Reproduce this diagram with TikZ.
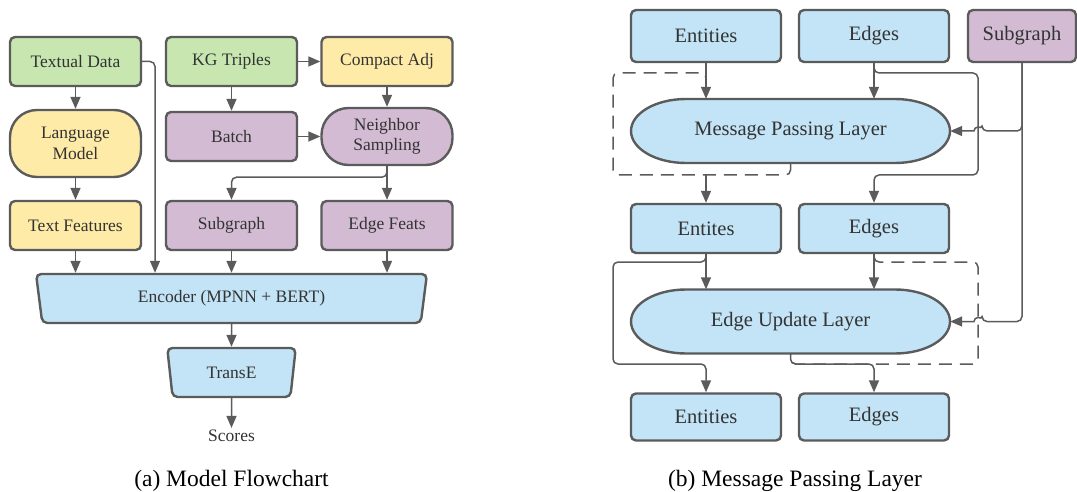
\documentclass[tikz,border=0pt]{standalone}
\usepackage{fontspec}
\setmainfont{Liberation Serif}
\usetikzlibrary{shapes.geometric,calc,arrows.meta,positioning}

\definecolor{greenF}{HTML}{C7E6B0}
\definecolor{yellowF}{HTML}{FFEBA8}
\definecolor{purpleF}{HTML}{D3BCD3}
\definecolor{blueF}{HTML}{C2E4F6}
\definecolor{lineC}{HTML}{5B5B5B}
\definecolor{textC}{HTML}{333333}

\tikzset{
  box/.style={draw=lineC, line width=2.4pt, rounded corners=5pt, text=textC, align=center, inner sep=0pt},
  lbox/.style={box, minimum width=131pt, minimum height=49pt, font=\fontsize{17.5}{20.5}\selectfont},
  rbox/.style={box, minimum width=150pt, minimum height=50pt, font=\fontsize{20.5}{24}\selectfont},
  pillbox/.style={lbox, rounded corners=27pt},
  trap/.style={lbox, trapezium, shape border rotate=180, trapezium angle=79, trapezium stretches=true},
  flow/.style={draw=lineC, line width=1.5pt, rounded corners=5pt, -{Triangle[length=12pt,width=10pt]}},
  skip/.style={draw=lineC, line width=1.5pt, rounded corners=5pt, dash pattern=on 13pt off 8pt},
  layer/.style={draw=lineC, line width=2.4pt, fill=blueF},
  layertext/.style={text=textC, font=\fontsize{20.5}{24}\selectfont, minimum width=319pt, minimum height=64pt, inner sep=0pt},
  caption/.style={font=\fontsize{23.5}{28}\selectfont}
}

% stadium with flat elliptic ends, centre x, centre y
\newcommand{\layershape}[2]{%
  \filldraw[layer] (#1-104.5,#2-32) -- (#1+104.5,#2-32)
    arc[start angle=90,end angle=-90,x radius=55pt,y radius=32pt]
    -- (#1-104.5,#2+32)
    arc[start angle=270,end angle=90,x radius=55pt,y radius=32pt] -- cycle;}

\begin{document}
\begin{tikzpicture}[x=1pt,y=-1pt]
\useasboundingbox (0,0) rectangle (1077,492);

% (a) model flowchart
\node[lbox, fill=greenF] (td) at (75.5,61.5) {Textual Data};
\node[lbox, fill=greenF] (kg) at (231.5,61.5) {KG Triples};
\node[lbox, fill=yellowF] (ca) at (387,61.5) {Compact Adj};

\node[pillbox, fill=yellowF, minimum height=67pt] (lm) at (75.5,143.5) {Language\\Model};
\node[lbox, fill=purpleF] (ba) at (231.5,136.5) {Batch};
\node[pillbox, fill=purpleF, minimum height=57pt] (ns) at (387,136.5) {Neighbor\\Sampling};

\node[lbox, fill=yellowF] (tf) at (75.5,225.5) {Text Features};
\node[lbox, fill=purpleF] (sg) at (231.5,225.5) {Subgraph};
\node[lbox, fill=purpleF] (ef) at (387,225.5) {Edge Feats};

\node[trap, fill=blueF, minimum width=392pt] (enc) at (231.5,298.5) {Encoder (MPNN + BERT)};
\node[trap, fill=blueF, minimum width=129pt] (te) at (231.5,372.5) {TransE};
\node[text=textC, font=\fontsize{17.5}{20}\selectfont, inner sep=2pt] (sc) at (231.5,436) {Scores};

\coordinate (tdbus) at (155,0);

\draw[flow] (td) -- (lm);
\draw[flow] (lm) -- (tf);
\draw[flow] (td.east) -| (tdbus |- enc.north);
\draw[flow] (kg) -- (ba);
\draw[flow] (kg) -- (ca);
\draw[flow] (ca) -- (ns);
\draw[flow] (ba.east) -- (ba.east -| ns.west);
\draw[flow] (ns.south) -- ++(0,11) -| (sg.north);
\draw[flow] (ns) -- (ef);
\draw[flow] (tf.south) -- (tf.south |- enc.north);
\draw[flow] (sg.south) -- (sg.south |- enc.north);
\draw[flow] (ef.south) -- (ef.south |- enc.north);
\draw[flow] (enc) -- (te);
\draw[flow] (te) -- (sc);

\node[caption] (capa) at (231.5,481) {(a) Model Flowchart};

% (b) message passing layer
\node[rbox, fill=blueF, minimum height=52pt] (en1) at (706,36) {Entities};
\node[rbox, fill=blueF, minimum height=52pt] (ed1) at (874,36) {Edges};
\node[rbox, fill=purpleF, minimum width=108pt, minimum height=52pt] (sgr) at (1022,36) {Subgraph};

\layershape{790.5}{131}
\node[layertext] (mp) at (790.5,131) {Message Passing Layer};

\node[rbox, fill=blueF, minimum height=49pt] (en2) at (706,228.5) {Entites};
\node[rbox, fill=blueF, minimum height=49pt] (ed2) at (874,228.5) {Edges};

\layershape{790.5}{321.5}
\node[layertext] (eu) at (790.5,321.5) {Edge Update Layer};

\node[rbox, fill=blueF, minimum height=47pt] (en3) at (706,417) {Entities};
\node[rbox, fill=blueF, minimum height=47pt] (ed3) at (874,417) {Edges};

\coordinate (lbus) at (613,0);
\coordinate (rbus) at (978,0);
\coordinate (up1) at (0,73);
\coordinate (lo1) at (0,175);
\coordinate (up2) at (0,262);
\coordinate (lo2) at (0,364);

% first layer
\draw[flow] (en1.south) -- (en1.south |- mp.north);
\draw[flow] (ed1.south) -- (ed1.south |- mp.north);
\draw[skip] (mp.south) |- (lbus |- lo1) |- (en1.south |- up1) -- ++(0,6);
\draw[flow] (en1.south |- lo1) -- (en2.north);
\draw[flow] (ed1.south) -- (ed1.south |- up1) -| (rbus |- lo1) -| (ed2.north);
\draw[flow] (sgr.south) |- ($(rbus |- mp.east)+(4,0)$) [sharp corners]
  arc[start angle=0,end angle=180,radius=4pt] -- (mp.east);

% second layer
\draw[flow] (en2.south) -- (en2.south |- eu.north);
\draw[flow] (ed2.south) -- (ed2.south |- eu.north);
\draw[flow] (en2.south) -- (en2.south |- up2) -| (lbus |- lo2) -| (en3.north);
\draw[skip] ($(ed2.south |- up2)+(0,-6)$) |- (rbus |- up2) -- (rbus |- lo2) -| (eu.south);
\draw[flow] (eu.south) |- (ed3.north |- lo2) -- (ed3.north);
\draw[flow] (sgr.south) |- ($(rbus |- eu.east)+(4,0)$) [sharp corners]
  arc[start angle=0,end angle=180,radius=4pt] -- (eu.east);

\node[caption] (capb) at (795,481) {(b) Message Passing Layer};
\end{tikzpicture}
\end{document}
